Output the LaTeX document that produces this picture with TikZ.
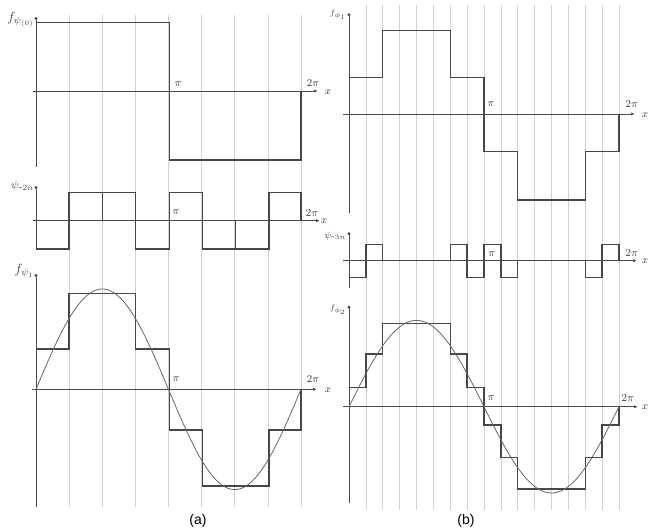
\documentclass[tikz,border=0pt]{standalone}
\usepackage{fontspec}
\newfontfamily\capfont{Liberation Sans}
\usetikzlibrary{arrows.meta}
\begin{document}
\begin{tikzpicture}[x=0.75pt,y=-0.75pt,
  gridline/.style={draw=black!18,line width=0.5pt},
  axisline/.style={draw=black!70,line width=0.6pt,-{Latex[length=3pt,width=2.4pt]}},
  yaxisline/.style={draw=black!70,line width=0.6pt,-{Circle[length=2.2pt]}},
  stepline/.style={draw=black!72,line width=1pt,line join=miter},
  sinecurve/.style={draw=black!60,line width=0.6pt},
  lbl/.style={inner sep=0.5pt,font=\fontsize{8}{9}\selectfont,text=black!75},
  flbl/.style={inner sep=0.5pt,font=\fontsize{10}{11}\selectfont,text=black!75},
  slbl/.style={inner sep=0.5pt,font=\fontsize{6.5}{7}\selectfont,text=black!75},
  caplbl/.style={inner sep=0pt,font=\capfont\fontsize{10.5}{12}\selectfont}]
\useasboundingbox (0,0) rectangle (654,532);
% ---------- grid lines ----------
\foreach \k in {1,...,8} \draw[gridline] ({36+33.125*\k},15) -- ({36+33.125*\k},507);
\foreach \k in {1,...,16} \draw[gridline] ({349+16.875*\k},5) -- ({349+16.875*\k},510);
% ================= (a) =================
% top panel
\coordinate (a1yb) at (36,167); \coordinate (a1yt) at (36,17);
\coordinate (a1xl) at (33,91); \coordinate (a1xr) at (318,91);
\draw[axisline] (a1xl) -- (a1xr);
\draw[yaxisline] (a1yb) -- (a1yt);
\draw[stepline] (36,22.7) -- (169.5,22.7) -- (169.5,160) -- (301,160) -- (301,91);
\node[flbl,anchor=east] (a1f) at (35,20) {$f_{\psi_{(0)}}$};
\node[lbl] (a1pi) at (178,84) {$\pi$};
\node[lbl] (a1tpi) at (313,83) {$2\pi$};
\node[lbl] (a1x) at (328,92) {$x$};
% middle panel
\coordinate (a2yb) at (36,250); \coordinate (a2yt) at (36,186);
\coordinate (a2xl) at (33,220.7); \coordinate (a2xr) at (320,220.7);
\draw[axisline] (a2xl) -- (a2xr);
\draw[yaxisline] (a2yb) -- (a2yt);
\draw[stepline] (36,249) -- (69.1,249) -- (69.1,192.7) -- (135.5,192.7) -- (135.5,249) -- (169.5,249)
  -- (169.5,192.7) -- (202.6,192.7) -- (202.6,249) -- (268.9,249) -- (268.9,192.7) -- (301,192.7) -- (301,220.7);
\draw[stepline,line width=0.7pt] (102.2,192.7) -- (102.2,220.7);
\draw[stepline,line width=0.7pt] (235.7,220.7) -- (235.7,249);
\node[slbl,anchor=east,font=\fontsize{8}{9}\selectfont] (a2f) at (35,186) {$\psi_{\mbox{-}2n}$};
\node[lbl] (a2pi) at (176,212.7) {$\pi$};
\node[lbl] (a2tpi) at (312,213) {$2\pi$};
\node[lbl] (a2x) at (324,221) {$x$};
% bottom panel
\coordinate (a3yb) at (36,507); \coordinate (a3yt) at (36,274);
\coordinate (a3xl) at (32,389.3); \coordinate (a3xr) at (317,389.3);
\draw[axisline] (a3xl) -- (a3xr);
\draw[yaxisline] (a3yb) -- (a3yt);
\draw[stepline] (36,349) -- (69.1,349) -- (69.1,293.3) -- (135.5,293.3) -- (135.5,349) -- (169.5,349)
  -- (169.5,430) -- (202.6,430) -- (202.6,486) -- (268.9,486) -- (268.9,430) -- (301,430) -- (301,389.3);
\draw[sinecurve] plot[domain=0:360,samples=121,smooth] ({36+\x/360*265},{389.3-100.3*sin(\x)});
\node[flbl,anchor=east] (a3f) at (35,271) {$f_{\psi_1}$};
\node[lbl] (a3pi) at (176,379) {$\pi$};
\node[lbl] (a3tpi) at (313,379) {$2\pi$};
\node[lbl] (a3x) at (328,390) {$x$};
\node[caplbl] (capa) at (198,521) {(a)};
% ================= (b) =================
% top panel
\coordinate (b1yb) at (349,213); \coordinate (b1yt) at (349,13.3);
\coordinate (b1xl) at (342.7,114); \coordinate (b1xr) at (635,114);
\draw[axisline] (b1xl) -- (b1xr);
\draw[yaxisline] (b1yb) -- (b1yt);
\draw[stepline] (349,77.7) -- (382.75,77.7) -- (382.75,30.3) -- (450.25,30.3) -- (450.25,77.7) -- (484,77.7)
  -- (484,151.7) -- (517.75,151.7) -- (517.75,200) -- (585.25,200) -- (585.25,151.7) -- (619,151.7) -- (619,114);
\node[slbl,anchor=east] (b1f) at (347,15) {$f_{\phi_1}$};
\node[lbl] (b1pi) at (491,104) {$\pi$};
\node[lbl] (b1tpi) at (631.7,104) {$2\pi$};
\node[lbl] (b1x) at (645,115) {$x$};
% middle panel
\coordinate (b2yb) at (349,288); \coordinate (b2yt) at (349,232.3);
\coordinate (b2xl) at (342.7,260.7); \coordinate (b2xr) at (637,260.7);
\draw[axisline] (b2xl) -- (b2xr);
\draw[yaxisline] (b2yb) -- (b2yt);
\draw[stepline] (349,277.3) -- (365.9,277.3) -- (365.9,244.3) -- (382.75,244.3) -- (382.75,260.7)
  -- (450.25,260.7) -- (450.25,244.3) -- (467.1,244.3) -- (467.1,277.3) -- (484,277.3) -- (484,244.3)
  -- (500.9,244.3) -- (500.9,277.3) -- (517.75,277.3) -- (517.75,260.7) -- (585.25,260.7) -- (585.25,277.3)
  -- (602.1,277.3) -- (602.1,244.3) -- (619,244.3) -- (619,260.7);
\node[slbl,anchor=east,font=\fontsize{7.5}{8}\selectfont] (b2f) at (347,236) {$\psi_{\mbox{-}3n}$};
\node[lbl] (b2pi) at (491.7,254) {$\pi$};
\node[lbl] (b2tpi) at (631.7,252.7) {$2\pi$};
\node[lbl] (b2x) at (645,261.5) {$x$};
% bottom panel
\coordinate (b3yb) at (349,503); \coordinate (b3yt) at (349,305.7);
\coordinate (b3xl) at (343,406.7); \coordinate (b3xr) at (638,406.7);
\draw[axisline] (b3xl) -- (b3xr);
\draw[yaxisline] (b3yb) -- (b3yt);
\draw[stepline] (349,387.7) -- (365.9,387.7) -- (365.9,354) -- (382.75,354) -- (382.75,323.3) -- (450.25,323.3)
  -- (450.25,354) -- (467.1,354) -- (467.1,387.7) -- (484,387.7) -- (484,425) -- (500.9,425) -- (500.9,457.7)
  -- (517.75,457.7) -- (517.75,489) -- (585.25,489) -- (585.25,457.7) -- (602.1,457.7) -- (602.1,425)
  -- (619,425) -- (619,406.7);
\draw[sinecurve] plot[domain=0:360,samples=121,smooth] ({349+\x/360*270},{406.7-86.3*sin(\x)});
\node[slbl,anchor=east] (b3f) at (347,310) {$f_{\phi_2}$};
\node[lbl] (b3pi) at (491,398) {$\pi$};
\node[lbl] (b3tpi) at (627.7,398) {$2\pi$};
\node[lbl] (b3x) at (645,407.5) {$x$};
\node[caplbl] (capb) at (466,521) {(b)};
\end{tikzpicture}
\end{document}
